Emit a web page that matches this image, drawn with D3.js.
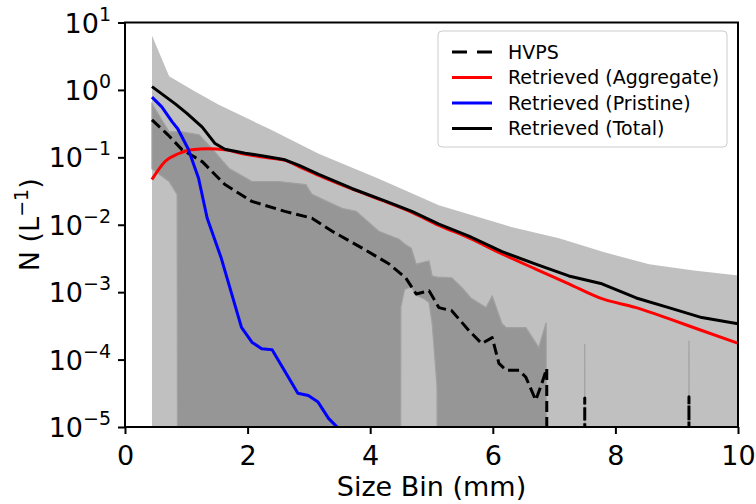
<!DOCTYPE html>
<html><head><meta charset="utf-8">
<script src="https://cdn.jsdelivr.net/npm/d3@7"></script>
<style>body{margin:0;background:#fff} svg{display:block} text{font-family:"DejaVu Sans",sans-serif;fill:#000}</style>
</head><body><svg id="c" width="756" height="504"></svg>
<script>
// ---- data (size bin in mm, concentration N in L^-1) ----
const totalX = [0.44,0.82,1.01,1.26,1.47,1.63,1.96,2.28,2.61,2.84,3.16,3.70,4.26,4.68,5.12,5.61,6.15,6.70,7.24,7.78,8.34,8.87,9.41,10.0];
const totalN = [1.12,0.62,0.45,0.28,0.160,0.132,0.115,0.104,0.092,0.076,0.056,0.0345,0.0222,0.0158,0.0102,0.0068,0.0040,0.0026,0.00174,0.00133,0.00082,0.00059,0.00042,0.00034];
const aggX = [0.44,0.65,0.87,1.09,1.36,1.63,1.96,2.28,2.61,2.84,3.16,3.70,4.26,4.68,5.12,5.61,6.15,6.70,7.24,7.78,8.34,8.87,9.41,10.0];
const aggN = [0.047,0.086,0.113,0.130,0.134,0.129,0.111,0.100,0.090,0.073,0.054,0.034,0.0218,0.0153,0.0098,0.0064,0.0037,0.0022,0.00133,0.00080,0.00059,0.000405,0.00027,0.000175];
const priX = [0.44,0.60,0.77,0.86,1.03,1.20,1.34,1.57,1.90,2.07,2.23,2.40,2.82,2.99,3.15,3.32,3.46,3.60];
const priN = [0.78,0.56,0.336,0.265,0.134,0.049,0.0126,0.0032,0.00030,0.000181,0.000145,0.000140,0.0000316,0.0000293,0.0000234,0.0000134,0.00001,0.0000065];
const hvpsX = [0.44,0.70,0.93,1.26,1.63,2.07,2.61,3.05,3.38,3.87,4.31,4.58,4.75,4.96,5.12,5.33,5.61,5.82,5.99,6.10,6.22,6.43,6.54,6.70,6.80,6.88,6.89,7.49,7.50,7.51,9.19,9.20,9.21];
const hvpsN = [0.36,0.216,0.130,0.0863,0.0395,0.0222,0.0158,0.0125,0.0080,0.0045,0.00261,0.00163,0.00094,0.00105,0.00059,0.00053,0.00027,0.000173,0.000212,0.0000877,0.0000692,0.0000692,0.0000546,0.000025,0.0000444,0.0000741,0,0,0.000027,0,0,0.000028,0];
// retrieved range (light band): upper bound, lower bound is 0
const retRangeX = [0.44,0.72,1.10,1.53,2.35,3.16,4.14,5.12,5.61,6.30,7.08,7.82,8.55,9.28,9.97,10.0];
const retRangeHi = [6.4,1.6,1.0,0.60,0.265,0.113,0.048,0.0194,0.0143,0.0093,0.0063,0.0039,0.0026,0.0021,0.00178,0.00178];
const retRangeLo = [0,0,0,0,0,0,0,0,0,0,0,0,0,0,0,0];
// HVPS range (dark band)
const hvRangeX  = [0.44,0.72,0.85,0.90,0.93,1.21,1.42,1.70,2.07,2.51,2.95,3.05,3.54,3.77,4.14,4.47,4.50,4.56,4.67,4.75,4.88,4.96,5.01,5.05,5.09,5.11,5.33,5.50,5.64,5.89,5.99,6.15,6.22,6.54,6.75,6.87,6.89,7.49,7.50,7.51,9.19,9.20,9.21];
const hvRangeHi = [0.62,0.239,0.239,0.239,0.239,0.216,0.134,0.068,0.0438,0.0438,0.0395,0.0282,0.0175,0.0158,0.008,0.0061,0.0058,0.0052,0.0045,0.0026,0.0028,0.0029,0.00174,0.0017,0.00168,0.00167,0.00163,0.00116,0.00082,0.00059,0.00088,0.00034,0.000298,0.000298,0.000151,0.000353,0,0,0.00017,0,0,0.00019,0];
const hvRangeLo = [0.068,0.0438,0.0282,0,0,0,0,0,0,0,0,0,0,0,0,0,0.0006,0.0011,0.0012,0.0009,0.0008,0.0007,0.00035,0.00012,0.00004,0,0,0,0,0,0,0,0,0,0,0,0,0,0,0,0,0,0];
const xTicks = [0,2,4,6,8,10];
const yExps = [1,0,-1,-2,-3,-4,-5];
const legendLabels = ["HVPS","Retrieved (Aggregate)","Retrieved (Pristine)","Retrieved (Total)"];
const legendColors = ["#000","#ff0000","#0000ff","#000"];

// ---- drawing ----
const svg = d3.select("#c");
const L=125, R=738, T=22.5, B=427;
const x = d3.scaleLinear().domain([0,10]).range([L,R]);
const y = d3.scaleLog().domain([1e-5,10]).range([B,T]);
const yv = v => v>0 ? y(v) : y(1e-30);

svg.append("defs").append("clipPath").attr("id","clip")
  .append("rect").attr("x",L).attr("y",T).attr("width",R-L).attr("height",B-T);
const g = svg.append("g").attr("clip-path","url(#clip)");

const area = d3.area().x(d=>x(d.x)).y0(d=>yv(d.lo)).y1(d=>yv(d.hi));
const line = d3.line().x(d=>x(d.x)).y(d=>yv(d.v));

g.append("path").datum(retRangeX.map((v,i)=>({x:v,hi:retRangeHi[i],lo:retRangeLo[i]})))
  .attr("d",area).attr("fill","#c0c0c0");
g.append("path").datum(hvRangeX.map((v,i)=>({x:v,hi:hvRangeHi[i],lo:hvRangeLo[i]})))
  .attr("d",area).attr("fill","#969696").attr("stroke","#a0a0a0").attr("stroke-width",1.2);

const series = [
  {X:hvpsX,N:hvpsN,c:"#000",dash:"11,5",curve:d3.curveLinear},
  {X:aggX,N:aggN,c:"#ff0000",curve:d3.curveMonotoneX},
  {X:priX,N:priN,c:"#0000ff",curve:d3.curveLinear},
  {X:totalX,N:totalN,c:"#000",curve:d3.curveLinear}
];
series.forEach(s=>{
  g.append("path").datum(s.X.map((v,i)=>({x:v,v:s.N[i]})))
    .attr("d",line.curve(s.curve)).attr("fill","none").attr("stroke",s.c).attr("stroke-width",3)
    .attr("stroke-dasharray",s.dash||null).attr("stroke-linejoin","round");
});

// axes
const xa = svg.append("g").attr("transform",`translate(0,${B})`)
  .call(d3.axisBottom(x).tickValues(xTicks).tickSize(7).tickPadding(12).tickFormat(d3.format("d")));
xa.select(".domain").remove();
xa.selectAll("line").attr("stroke","#000").attr("stroke-width",2);
xa.selectAll("text").style("font-size","27px").attr("font-family","DejaVu Sans");

const ya = svg.append("g").attr("transform",`translate(${L},0)`)
  .call(d3.axisLeft(y).tickValues(yExps.map(e=>Math.pow(10,e))).tickSize(7).tickFormat(""));
ya.select(".domain").remove();
ya.selectAll("line").attr("stroke","#000").attr("stroke-width",2);
yExps.forEach(e=>{
  const t = svg.append("text").attr("x",L-14).attr("y",y(Math.pow(10,e))+10)
    .attr("text-anchor","end").style("font-size","27px");
  t.append("tspan").text("10");
  t.append("tspan").attr("dy",-12).style("font-size","19px").text(e<0?"\u2212"+(-e):String(e));
});

// frame
svg.append("rect").attr("x",L).attr("y",T).attr("width",R-L).attr("height",B-T)
  .attr("fill","none").attr("stroke","#000").attr("stroke-width",2);

// axis labels
svg.append("text").attr("x",(L+R)/2).attr("y",496).attr("text-anchor","middle")
  .style("font-size","27px").text("Size Bin (mm)");
const yl = svg.append("text").attr("transform",`translate(39,${(T+B)/2}) rotate(-90)`)
  .attr("text-anchor","middle").style("font-size","27px");
yl.append("tspan").text("N (L");
yl.append("tspan").attr("dy",-11).style("font-size","19px").text("\u22121");
yl.append("tspan").attr("dy",11).text(")");

// legend
const lg = svg.append("g");
lg.append("rect").attr("x",438).attr("y",31).attr("width",289).attr("height",116).attr("rx",4)
  .attr("fill","#fff").attr("fill-opacity",0.8).attr("stroke","#cccccc").attr("stroke-width",1);
legendLabels.forEach((lab,i)=>{
  const cy = 52 + i*25.5;
  lg.append("line").attr("x1",452).attr("x2",492).attr("y1",cy).attr("y2",cy)
    .attr("stroke",legendColors[i]).attr("stroke-width",3)
    .attr("stroke-dasharray",i===0?"15,10":null);
  lg.append("text").attr("x",508).attr("y",cy).attr("dy","0.35em").style("font-size","19px").text(lab);
});
</script></body></html>
